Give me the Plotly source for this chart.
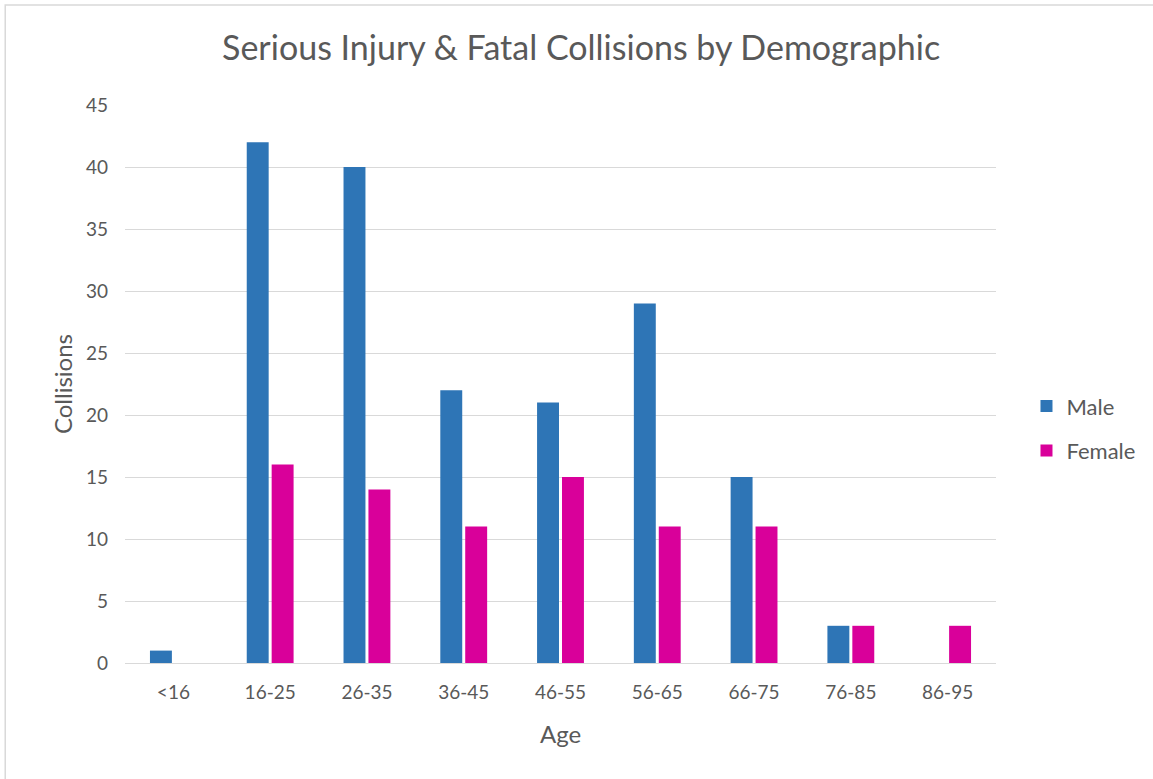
"""Serious injury & fatal collisions by age group and sex, Excel-style column chart."""

import plotly.graph_objects as go

COLORS = {
    "male": "#2E75B6",
    "female": "#D9009A",
    "text": "#595959",
    "grid": "#D9D9D9",
    "frame": "#D9D9D9",
}

age_groups = ["<16", "16-25", "26-35", "36-45", "46-55", "56-65", "66-75", "76-85", "86-95"]
male = [1, 42, 40, 22, 21, 29, 15, 3, None]
female = [None, 16, 14, 11, 15, 11, 11, 3, 3]
y_ticks = [0, 5, 10, 15, 20, 25, 30, 35, 40, 45]

FONT = "Lato, 'Open Sans', sans-serif"

fig = go.Figure()
fig.add_trace(go.Bar(
    name="Male", x=age_groups, y=male, legendgroup="m",
    marker=dict(color=COLORS["male"], line_width=0),
))
fig.add_trace(go.Bar(
    name="Female", x=age_groups, y=female, legendgroup="f",
    marker=dict(color=COLORS["female"], line_width=0),
))

fig.update_layout(
    width=1153, height=779,
    barmode="group", bargap=0.485, bargroupgap=0.12,
    paper_bgcolor="white", plot_bgcolor="white",
    font=dict(family=FONT, color=COLORS["text"], size=19),
    margin=dict(l=125, r=155, t=105, b=116),
    title=dict(
        text="Serious Injury & Fatal Collisions by Demographic",
        x=0.504, xanchor="center", xref="container", y=0.938, yanchor="middle",
        font=dict(size=34, color=COLORS["text"]),
    ),
    legend=dict(
        x=1.035, xanchor="left", y=0.42, yanchor="middle",
        font=dict(size=22, color=COLORS["text"]),
        traceorder="grouped", tracegroupgap=13, itemwidth=30,
    ),
    xaxis=dict(
        title=dict(text="Age", font=dict(size=24), standoff=24),
        showgrid=False, showline=True, linecolor=COLORS["grid"], linewidth=1,
        ticks="", tickfont=dict(size=19), ticklabelstandoff=12,
    ),
    yaxis=dict(
        title=dict(text="Collisions", font=dict(size=24), standoff=6),
        range=[0, 45], tickvals=y_ticks, showgrid=True,
        gridcolor=COLORS["grid"], gridwidth=1, zeroline=False,
        showline=False, ticks="", tickfont=dict(size=19), ticklabelstandoff=16,
    ),
    shapes=[dict(
        type="rect", xref="paper", yref="paper",
        x0=-0.1375, x1=1.2, y0=-0.22, y1=1.179,
        line=dict(color=COLORS["frame"], width=1.5),
        layer="below",
    )],
)

fig.write_html(
    "out.html",
    config={"displayModeBar": False},
    post_script="document.body.style.margin='0';",
)
